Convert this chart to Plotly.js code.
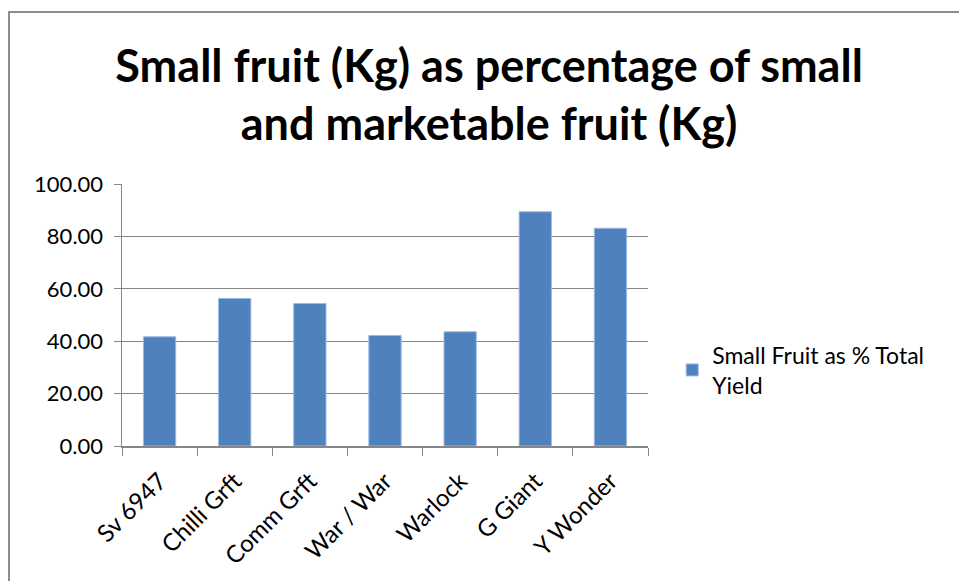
<!DOCTYPE html>
<html>
<head>
<meta charset="utf-8">
<script src="https://cdn.plot.ly/plotly-3.0.1.min.js"></script>
<style>
html,body{margin:0;padding:0;background:#fff;}
#wrap{position:relative;width:959px;height:581px;}
#chart{width:959px;height:581px;}
#frame{position:absolute;left:8px;top:11px;width:1000px;height:700px;border:2px solid #8c8c8c;box-sizing:border-box;pointer-events:none;}
</style>
</head>
<body>
<div id="wrap"><div id="chart"></div><div id="frame"></div></div>
<script>
const categories = ["Sv 6947","Chilli Grft","Comm Grft","War / War","Warlock","G Giant","Y Wonder"];
const smallFruitPct = [41.7, 56.3, 54.4, 42.2, 43.6, 89.4, 83.1];
const seriesName = "Small Fruit as % Total<br>Yield";
const titleText = "Small fruit (Kg) as percentage of small<br>and marketable fruit (Kg)";

const font = "Lato, 'Open Sans', sans-serif";
const trace = {
  type: "bar",
  x: categories,
  y: smallFruitPct,
  name: seriesName,
  showlegend: true,
  marker: {color: "#4F81BD", line: {color: "#9bbbe3", width: 1}}
};
const layout = {
  width: 959, height: 581,
  paper_bgcolor: "#fff", plot_bgcolor: "#fff",
  margin: {l: 122, r: 311, t: 184, b: 135},
  bargap: 0.57,
  title: {text: titleText, font: {family: font, size: 45, color: "#000", weight: 700}, x: 0.51, xanchor: "center", y: 0.859, yanchor: "middle"},
  font: {family: font, color: "#000"},
  xaxis: {
    type: "category", tickangle: -45, tickfont: {size: 24, family: font},
    showline: true, linecolor: "#868686", linewidth: 1.5,
    ticks: "outside", ticklen: 8, tickcolor: "#868686", tickson: "boundaries",
    ticklabelstandoff: 10, showgrid: false
  },
  yaxis: {
    range: [0, 100], dtick: 20, tickformat: ".2f", tickfont: {size: 22, family: font},
    showline: true, linecolor: "#868686", linewidth: 1.5,
    ticks: "outside", ticklen: 7, tickcolor: "#868686", ticklabelstandoff: 6,
    showgrid: true, gridcolor: "#868686", gridwidth: 1.2, zeroline: false
  },
  showlegend: true,
  legend: {x: 1.046, xanchor: "left", y: 0.29, yanchor: "middle", font: {size: 23, family: font}, bgcolor: "rgba(0,0,0,0)"}
};
Plotly.newPlot("chart", [trace], layout, {displayModeBar: false, staticPlot: true});
</script>
</body>
</html>
